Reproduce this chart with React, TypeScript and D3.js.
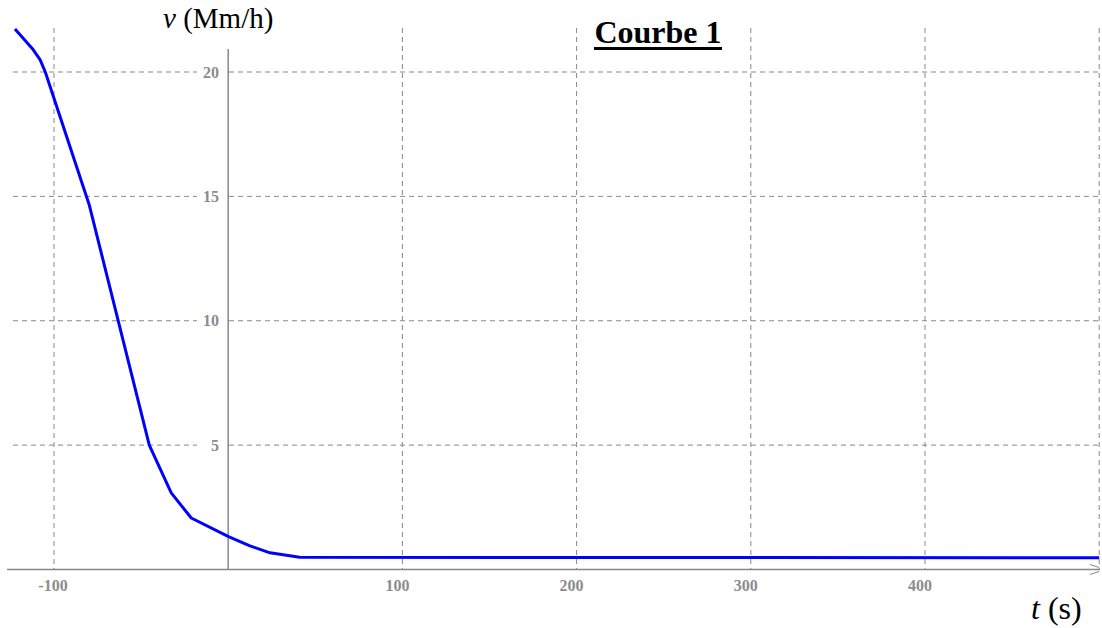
import React from "react";
import * as d3 from "d3";

const timeS = [-122.4, -112, -108, -105, -79.7, -45.3, -32.7, -21.2, 0.5, 12.5, 24, 41, 500];
const speed = [21.73, 20.9, 20.5, 20.0, 14.64, 5.0, 3.08, 2.07, 1.31, 0.95, 0.67, 0.49, 0.47];
const xTicks = [-100, 100, 200, 300, 400];
const xGrid = [-100, 100, 200, 300, 400, 500];
const yTicks = [5, 10, 15, 20];

export default function App() {
  const W = 1102, H = 628;
  const x = d3.scaleLinear().domain([-100, 400]).range([54, 925]);
  const y = d3.scaleLinear().domain([0, 20]).range([569.5, 72]);
  const pts = timeS.map((t, i) => [t, speed[i]] as [number, number]);
  const line = d3.line<[number, number]>().x(d => x(d[0])).y(d => y(d[1]));
  const gray = "#888";
  const x0 = x(0);
  const yBase = y(0);
  const labelFont = "'Liberation Serif', serif";
  return (
    <svg width={W} height={H} style={{ position: "absolute", left: 0, top: 0, background: "#fff" }} fontFamily={labelFont}>
      {yTicks.map(v => (
        <line key={"h" + v} x1={13} x2={1100} y1={y(v)} y2={y(v)} stroke={gray} strokeWidth={1} strokeDasharray="5,4" />
      ))}
      {xGrid.map(t => (
        <line key={"v" + t} x1={x(t)} x2={x(t)} y1={28} y2={yBase} stroke={gray} strokeWidth={1} strokeDasharray="5,4" />
      ))}
      {yTicks.map(v => (
        <g key={"yl" + v}>
          <rect x={197} y={y(v) - 8} width={30} height={16} fill="#fff" />
          <text x={219} y={y(v) + 2} textAnchor="end" dominantBaseline="middle" fontSize={16} fontWeight="bold" fill="#8c8c8c">{v}</text>
        </g>
      ))}
      <line x1={7} x2={1100} y1={yBase} y2={yBase} stroke={gray} strokeWidth={1.5} />
      <line x1={x0} x2={x0} y1={49} y2={yBase} stroke={gray} strokeWidth={1.5} />
      <path d={`M1090,${yBase - 5} L1099,${yBase - 2} M1090,${yBase + 5} L1099,${yBase + 2}`} stroke={gray} strokeWidth={1} fill="none" />
      {xTicks.map(t => (
        <text key={"xl" + t} x={x(t) - (t < 0 ? 1 : 5)} y={591} textAnchor="middle" fontSize={16} fontWeight="bold" fill="#8c8c8c">{t}</text>
      ))}
      <path d={line(pts) || ""} fill="none" stroke="#0000ff" strokeWidth={3} strokeLinejoin="round" />
      <text x={163} y={28} fontSize={29} fill="#000" fontFamily="'Liberation Serif', serif">
        <tspan fontStyle="italic">v</tspan> (Mm/h)
      </text>
      <text x={658} y={43} textAnchor="middle" fontSize={32} fontWeight="bold" fill="#000" fontFamily="'Liberation Serif', serif">Courbe 1</text>
      <line x1={594} x2={722} y1={48.5} y2={48.5} stroke="#000" strokeWidth={3} />
      <text x={1031} y={619} fontSize={32} fill="#000" fontFamily="'Liberation Serif', serif">
        <tspan fontStyle="italic">t</tspan> (s)
      </text>
    </svg>
  );
}
